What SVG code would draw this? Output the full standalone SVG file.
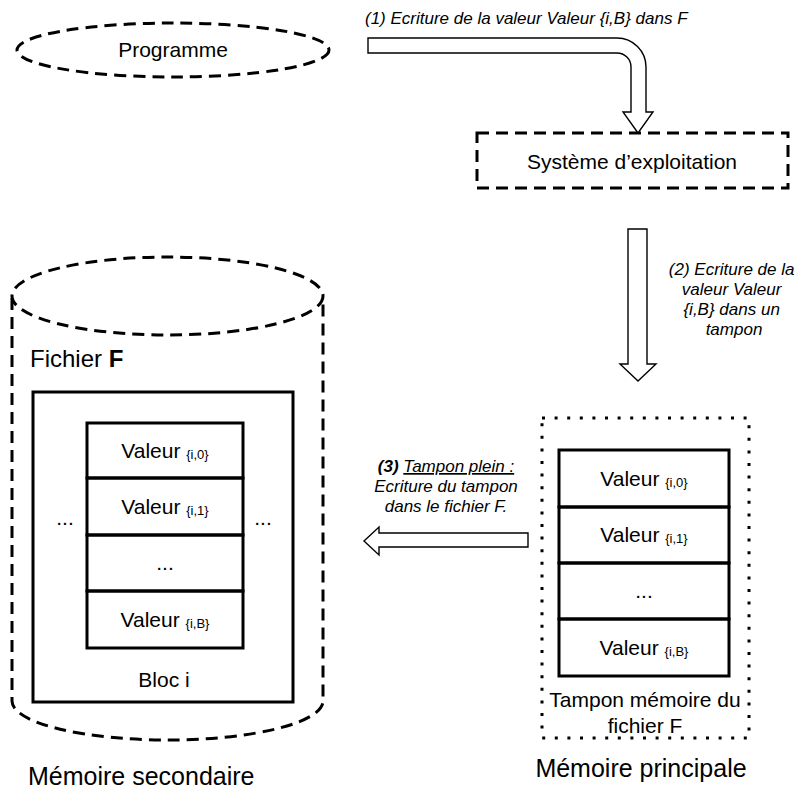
<svg xmlns="http://www.w3.org/2000/svg" width="799" height="792" viewBox="0 0 799 792">
<style>
text{font-family:"Liberation Sans",Arial,sans-serif;fill:#000}
.n{font-size:21px}
.it{font-size:17px;font-style:italic}
.sub{font-size:13px}
.dash{fill:none;stroke:#000;stroke-width:3;stroke-dasharray:12 7}
.dot{fill:none;stroke:#000;stroke-width:3;stroke-dasharray:3 9.6}
.box{fill:none;stroke:#000;stroke-width:3}
.arrow{fill:#fff;stroke:#000;stroke-width:1.4;stroke-linejoin:miter}
</style>
<rect width="799" height="792" fill="#fff"/>
<g id="programme">
<ellipse class="dash" cx="173" cy="50" rx="156" ry="27"/>
<text class="n" x="173" y="57" text-anchor="middle">Programme</text>
</g>
<g id="systeme">
<rect class="dash" x="477" y="133" width="311" height="55"/>
<text class="n" x="632" y="169" text-anchor="middle">Système d’exploitation</text>
</g>
<g id="memoire-secondaire">
<ellipse class="dash" cx="167.5" cy="296" rx="155.5" ry="39"/>
<path class="dash" d="M12,298 V701 A155.5,39 0 0 0 323,701 V298"/>
<text x="30" y="367" font-size="24">Fichier <tspan font-weight="bold">F</tspan></text>
<rect class="box" x="33" y="392" width="260" height="310"/>
<rect class="box" x="87" y="423" width="156" height="55"/>
<rect class="box" x="87" y="478" width="156" height="57"/>
<rect class="box" x="87" y="535" width="156" height="56"/>
<rect class="box" x="87" y="591" width="156" height="57"/>
<text class="n" x="165" y="458" text-anchor="middle">Valeur <tspan class="sub" dy="1">{i,0}</tspan></text>
<text class="n" x="165" y="514" text-anchor="middle">Valeur <tspan class="sub" dy="1">{i,1}</tspan></text>
<text class="n" x="165" y="570" text-anchor="middle">...</text>
<text class="n" x="165" y="627" text-anchor="middle">Valeur <tspan class="sub" dy="1">{i,B}</tspan></text>
<text class="n" x="65" y="525" text-anchor="middle">...</text>
<text class="n" x="263" y="525" text-anchor="middle">...</text>
<text class="n" x="164" y="687" text-anchor="middle">Bloc i</text>
<text x="28" y="785" font-size="25">Mémoire secondaire</text>
</g>
<g id="memoire-principale">
<rect class="dot" x="542" y="418" width="207" height="320"/>
<rect class="box" x="559" y="450" width="170" height="57"/>
<rect class="box" x="559" y="507" width="170" height="56"/>
<rect class="box" x="559" y="563" width="170" height="56"/>
<rect class="box" x="559" y="619" width="170" height="57"/>
<text class="n" x="644" y="486" text-anchor="middle">Valeur <tspan class="sub" dy="1">{i,0}</tspan></text>
<text class="n" x="644" y="542" text-anchor="middle">Valeur <tspan class="sub" dy="1">{i,1}</tspan></text>
<text class="n" x="644" y="598" text-anchor="middle">...</text>
<text class="n" x="644" y="655" text-anchor="middle">Valeur <tspan class="sub" dy="1">{i,B}</tspan></text>
<text class="n" x="645" y="707" text-anchor="middle">Tampon mémoire du</text>
<text class="n" x="645" y="733" text-anchor="middle">fichier F</text>
<text x="641" y="777" font-size="25" text-anchor="middle">Mémoire principale</text>
</g>
<g id="connectors">
<path class="arrow" d="M368,38 H617 A29,29 0 0 1 646,67 V112 H653 L638,133 L623,112 H631 V67 A14,14 0 0 0 617,53 H368 Z"/>
<path class="arrow" d="M628,229 H647 V364 H656 L638,381 L620,364 H628 Z"/>
<path class="arrow" d="M528,533 V547 H379 V555 L364,541 L379,527 V533 Z"/>
<text class="it" x="365" y="24">(1) Ecriture de la valeur Valeur {i,B} dans F</text>
<text class="it" text-anchor="middle">
<tspan x="734" y="275">(2) Ecriture de la</tspan>
<tspan x="734" y="295">valeur Valeur</tspan>
<tspan x="734" y="315">{i,B} dans un</tspan>
<tspan x="734" y="335">tampon</tspan>
</text>
<text class="it" x="446" y="472" text-anchor="middle"><tspan font-weight="bold">(3)</tspan> <tspan text-decoration="underline">Tampon plein :</tspan></text>
<text class="it" x="446" y="492" text-anchor="middle">Ecriture du tampon</text>
<text class="it" x="446" y="512" text-anchor="middle">dans le fichier F.</text>
</g>
</svg>
